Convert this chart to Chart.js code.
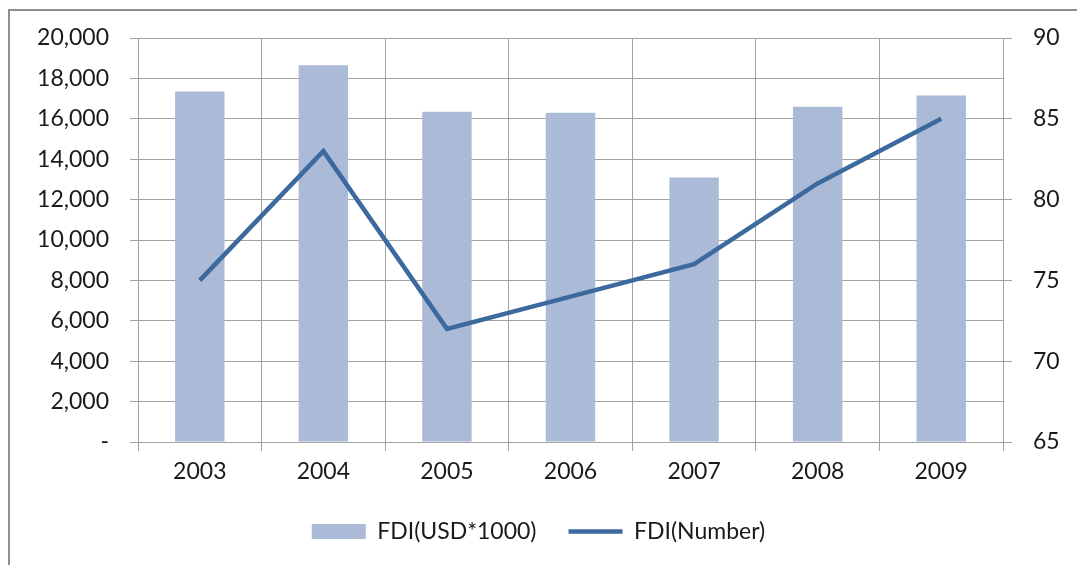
<!DOCTYPE html>
<html>
<head>
<meta charset="utf-8">
<script src="https://cdn.jsdelivr.net/npm/chart.js@4/dist/chart.umd.min.js"></script>
<style>
  html, body { margin: 0; padding: 0; background: #ffffff; overflow: hidden; }
  #frame { position: absolute; left: 8px; top: 9px; width: 1200px; height: 700px; border: 2px solid #8e8e8e; box-sizing: border-box; }
  #wrap { position: absolute; left: 0; top: 0; width: 1077px; height: 565px; }
</style>
</head>
<body>
<div id="frame"></div>
<div id="wrap"><canvas id="c" width="1077" height="565"></canvas></div>
<script>
const categories = ["2003", "2004", "2005", "2006", "2007", "2008", "2009"];
const fdiUsd = [17350, 18650, 16350, 16300, 13100, 16600, 17150];
const fdiNumber = [75, 83, 72, 74, 76, 81, 85];
const seriesNames = ["FDI(USD*1000)", "FDI(Number)"];
const leftTicks = [0, 2000, 4000, 6000, 8000, 10000, 12000, 14000, 16000, 18000, 20000];
const rightTicks = [65, 70, 75, 80, 85, 90];

const FONT = { family: "Lato, 'Open Sans', sans-serif", size: 23 };
const GRID = "#a3a3a3";
const TEXT = "#1a1a1a";

new Chart(document.getElementById("c"), {
  type: "bar",
  data: {
    labels: categories,
    datasets: [
      {
        type: "line",
        label: seriesNames[1],
        data: fdiNumber,
        yAxisID: "y2",
        borderColor: "#3d6a9e",
        backgroundColor: "#3d6a9e",
        borderWidth: 4.5,
        pointRadius: 0,
        tension: 0,
        order: 0
      },
      {
        type: "bar",
        label: seriesNames[0],
        data: fdiUsd,
        yAxisID: "y",
        backgroundColor: "#aabad7",
        borderWidth: 0,
        categoryPercentage: 1.0,
        barPercentage: 0.4,
        order: 1
      }
    ]
  },
  options: {
    responsive: false,
    animation: false,
    layout: { padding: { left: 0, right: 0, top: 38, bottom: 12 } },
    plugins: {
      tooltip: { enabled: false },
      legend: {
        position: "bottom",
        labels: {
          font: FONT,
          color: TEXT,
          boxWidth: 54,
          boxHeight: 15,
          padding: 32,
          usePointStyle: true,
          pointStyleWidth: 54,
          generateLabels: (chart) => {
            const ds = chart.data.datasets;
            return [
              { text: ds[1].label, fillStyle: ds[1].backgroundColor, strokeStyle: ds[1].backgroundColor, lineWidth: 0, datasetIndex: 1, hidden: false, fontColor: TEXT, pointStyle: "rect" },
              { text: ds[0].label, fillStyle: "rgba(0,0,0,0)", strokeStyle: ds[0].borderColor, lineWidth: 4.5, datasetIndex: 0, hidden: false, fontColor: TEXT, pointStyle: "line" }
            ];
          }
        }
      }
    },
    scales: {
      x: {
        offset: true,
        grid: { color: GRID, lineWidth: 1, offset: true, tickLength: 9, drawTicks: true },
        border: { color: GRID, width: 1 },
        ticks: { font: FONT, color: TEXT, padding: 7, maxRotation: 0 },
        afterFit: (s) => { s.height = 46; }
      },
      y: {
        position: "left",
        min: 0,
        max: 20000,
        afterBuildTicks: (s) => { s.ticks = leftTicks.map(v => ({ value: v })); },
        grid: { color: GRID, lineWidth: 1, tickLength: 8 },
        border: { color: GRID, width: 1 },
        ticks: {
          font: FONT, color: TEXT, padding: 21,
          callback: (v) => v === 0 ? "-" : Number(v).toLocaleString("en-US")
        },
        afterFit: (s) => { s.width = 138; }
      },
      y2: {
        position: "right",
        min: 65,
        max: 90,
        afterBuildTicks: (s) => { s.ticks = rightTicks.map(v => ({ value: v })); },
        grid: { drawOnChartArea: false, color: GRID, lineWidth: 1, tickLength: 9 },
        border: { color: GRID, width: 1 },
        ticks: { font: FONT, color: TEXT, padding: 21 },
        afterFit: (s) => { s.width = 74; }
      }
    }
  }
});
</script>
</body>
</html>
